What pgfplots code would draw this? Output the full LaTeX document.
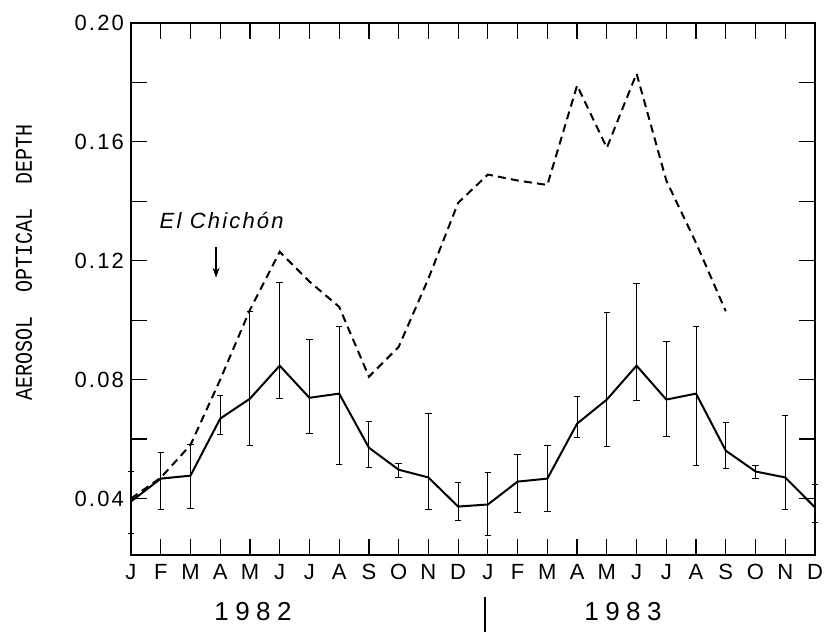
\documentclass[border=0pt]{standalone}
\usepackage{fontspec}
\setmainfont{Liberation Sans}
\newfontfamily\lett[LetterSpace=10]{Liberation Sans}
\newfontfamily\yearf[LetterSpace=25]{Liberation Sans}
\newfontfamily\mono{Liberation Mono}
\usepackage{pgfplots}
\pgfplotsset{compat=1.18}
\usepackage{pgfplotstable}
\usetikzlibrary{arrows.meta}

% monthly mean with range (solid)
\pgfplotstableread{
x  y      hi     lo
0  0.0390 0.0490 0.0282
1  0.0467 0.0555 0.0363
2  0.0477 0.0582 0.0366
3  0.0669 0.0746 0.0615
4  0.0736 0.1029 0.0578
5  0.0847 0.1126 0.0736
6  0.0739 0.0934 0.0618
7  0.0753 0.0978 0.0514
8  0.0571 0.0659 0.0504
9  0.0497 0.0518 0.0471
10 0.0471 0.0686 0.0363
11 0.0373 0.0454 0.0326
12 0.0380 0.0487 0.0276
13 0.0457 0.0548 0.0353
14 0.0467 0.0578 0.0356
15 0.0652 0.0743 0.0605
16 0.0733 0.1025 0.0575
17 0.0847 0.1123 0.0729
18 0.0733 0.0928 0.0608
19 0.0753 0.0978 0.0511
20 0.0561 0.0655 0.0501
21 0.0491 0.0511 0.0467
22 0.0471 0.0679 0.0363
23 0.0370 0.0447 0.0319
}\solid

% observed 1982-83 (dashed)
\pgfplotstableread{
x  y
0  0.0400
1  0.0470
2  0.0580
3  0.0800
4  0.1035
5  0.1230
6  0.1130
7  0.1045
8  0.0810
9  0.0910
10 0.1140
11 0.1395
12 0.1490
13 0.1470
14 0.1455
15 0.1790
16 0.1580
17 0.1830
18 0.1470
19 0.1260
20 0.1030
}\dashed

\begin{document}
\begin{tikzpicture}
\useasboundingbox (-65.5pt,-38.5pt) rectangle (346.5pt,277.5pt);
\begin{axis}[
  at={(0,0)}, anchor=south west, scale only axis,
  width=342pt, height=266pt,
  xmin=0, xmax=23, ymin=0.021, ymax=0.20,
  xtick={0,...,23},
  xticklabels={J,F,M,A,M,J,J,A,S,O,N,D,J,F,M,A,M,J,J,A,S,O,N,D},
  ytick={0.04,0.08,0.12,0.16,0.20},
  minor ytick={0.06,0.10,0.14,0.18},
  scaled y ticks=false,
  /pgf/number format/assume math mode=true,
  yticklabel style={/pgf/number format/fixed, /pgf/number format/fixed zerofill,
                    /pgf/number format/precision=2},
  ticklabel style={font=\lett\fontsize{11}{13}\selectfont},
  xticklabel style={yshift=-1pt},
  tick align=inside, major tick length=8pt, minor tick length=8pt,
  tick style={black, line width=0.6pt},
  axis line style={line width=0.7pt},
  clip=false,
]
\addplot[black, line width=1pt, dash pattern=on 4pt off 2.6pt] table[x=x, y=y]{\dashed};
\addplot[black, line width=1pt, mark=none,
  error bars/.cd, y dir=both, y explicit, error mark=|,
  error bar style={line width=0.5pt, solid},
  error mark options={line width=0.6pt, mark size=1.6pt, solid}]
  table[x=x, y=y, y error plus expr=\thisrow{hi}-\thisrow{y},
        y error minus expr=\thisrow{y}-\thisrow{lo}]{\solid};
\node[font=\lett\itshape\fontsize{11}{13}\selectfont] at (axis cs:3.05,0.1334) {El Chichón};
\draw[-{Stealth[length=5pt,width=3.5pt]}, line width=0.6pt]
  (axis cs:2.86,0.1247) -- (axis cs:2.86,0.1143);
\end{axis}
\node[rotate=90, font=\mono\fontsize{10}{12}\selectfont] at (-53.5pt,146.5pt)
  {\scalebox{1}[1.2]{AEROSOL\ \ OPTICAL\ \ DEPTH}};
\node[font=\yearf\fontsize{13}{15}\selectfont] at (61pt,-28.5pt) {1982};
\node[font=\yearf\fontsize{13}{15}\selectfont] at (246pt,-28.5pt) {1983};
\draw[line width=0.6pt] (177pt,-21pt) -- (177pt,-38.5pt);
\end{tikzpicture}
\end{document}
